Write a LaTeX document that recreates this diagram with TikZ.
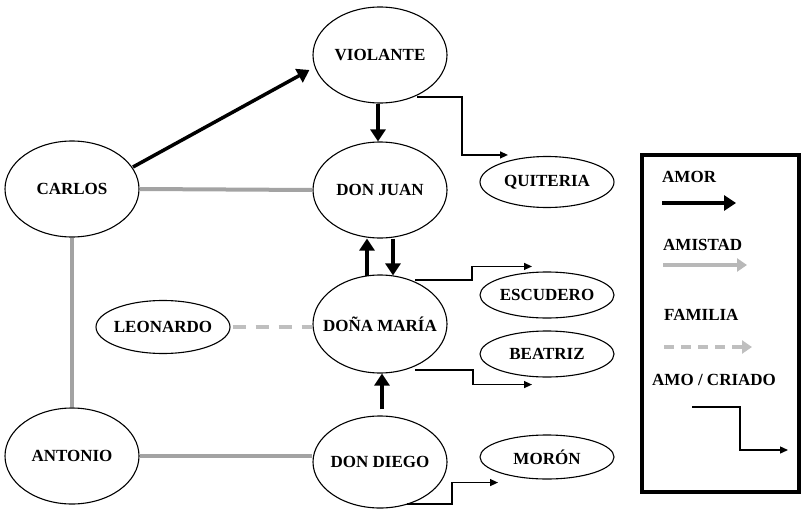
\documentclass[tikz,border=0pt]{standalone}
\usepackage{fontspec}
\setmainfont{Liberation Serif}
\usetikzlibrary{arrows.meta,calc,shapes.geometric}
\newcommand{\nmbox}[1]{\makebox[0pt]{#1}}
\begin{document}
\begin{tikzpicture}[x=1pt,y=-1pt,
  person/.style={draw,ellipse,line width=1.1pt,minimum width=134pt,minimum height=96pt,inner sep=0pt,font=\fontsize{17}{20}\selectfont\bfseries},
  amor/.style={line width=3.5pt,-{Triangle[length=12pt,width=15pt]}},
  amistad/.style={line width=4pt,color=black!36},
  familia/.style={line width=4pt,color=black!25,dash pattern=on 13pt off 10pt},
  amo/.style={line width=1.3pt,-{Triangle[length=8pt,width=7pt]}},
  legtext/.style={inner sep=0pt,anchor=west,font=\fontsize{17}{20}\selectfont\bfseries},
]
\useasboundingbox (0,0) rectangle (802,508);

% people
\node[person] (violante) at (380,55) {\nmbox{VIOLANTE}};
\node[person] (donjuan) at (380,190) {\nmbox{DON JUAN}};
\node[person,minimum height=98pt] (maria) at (380,324) {\nmbox{DOÑA MARÍA}};
\node[person,minimum height=92pt] (diego) at (380,462) {\nmbox{DON DIEGO}};
\node[person] (carlos) at (72,189) {\nmbox{CARLOS}};
\node[person] (antonio) at (72,456) {\nmbox{ANTONIO}};
\node[person,minimum height=53pt] (leonardo) at (163,327) {\nmbox{LEONARDO}};
\node[person,minimum height=51pt] (quiteria) at (547,182) {\nmbox{QUITERIA}};
\node[person,minimum height=46pt] (escudero) at (547,295) {\nmbox{ESCUDERO}};
\node[person,minimum height=46pt] (beatriz) at (547,354) {\nmbox{BEATRIZ}};
\node[person,minimum height=44pt] (moron) at (547,457) {\nmbox{MORÓN}};

% amistad
\draw[amistad] (carlos.east) -- (donjuan.west);
\draw[amistad] (carlos.south) -- (antonio.north);
\draw[amistad] (antonio.east) -- (antonio.east -| diego.west);
% familia
\draw[familia] ($(leonardo.east)+(2,0)$) -- (leonardo.east -| maria.west);

% amor
\draw[amor] ($(carlos.center)+(61,-22)$) -- ($(violante.west)+(-3,15)$);
\draw[amor] ($(violante.south)+(-2,0)$) -- ($(donjuan.north)+(-2,0)$);
\draw[amor] ($(maria.north)+(-13,2)$) -- ($(donjuan.south)+(-13,0)$);
\draw[amor] ($(donjuan.south)+(13,0)$) -- ($(maria.north)+(13,1)$);
\draw[amor] ($(diego.north)+(2,-6)$) -- ($(maria.south)+(2,0)$);

% amo / criado
\draw[amo] ($(violante.center)+(37,42)$) -- ++(45,0) |- ($(quiteria.north)+(-39,-1)$);
\draw[amo] ($(maria.center)+(35,-44)$) -- ++(57,0) |- ($(escudero.north)+(-15,-5)$);
\draw[amo] ($(maria.center)+(35,46)$) -- ++(58,0) |- ($(beatriz.south)+(-15,7)$);
\draw[amo] ($(diego.center)+(27,42)$) -- ++(45,0) |- ($(moron.south)+(-49,3)$);

% legend
\draw[line width=3.5pt] (642,155) rectangle (799,492);
\node[legtext] (lamor) at (662,177) {AMOR};
\coordinate (la1) at (662,203);
\coordinate (la2) at (736,203);
\draw[amor] (la1) -- (la2);
\node[legtext] (lamistad) at (663,245) {AMISTAD};
\coordinate (lb1) at (663,265);
\coordinate (lb2) at (747,265);
\draw[amistad,color=black!28,-{Triangle[length=10pt,width=13pt]}] (lb1) -- (lb2);
\node[legtext] (lfamilia) at (664,315) {FAMILIA};
\coordinate (lc1) at (664,347);
\coordinate (lc2) at (752,347);
\draw[familia,dash pattern=on 10pt off 7pt,-{Triangle[length=10pt,width=13pt]}] (lc1) -- (lc2);
\node[legtext] (lamo) at (652,380) {AMO / CRIADO};
\coordinate (ld1) at (692,407);
\coordinate (ld2) at (740,450);
\coordinate (ld3) at (788,450);
\draw[amo] (ld1) -| (ld2) -- (ld3);
\end{tikzpicture}
\end{document}
